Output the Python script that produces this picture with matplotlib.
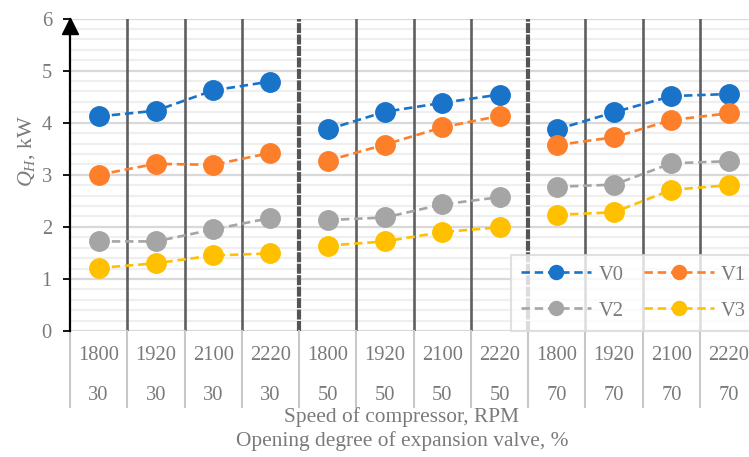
import matplotlib
matplotlib.use("Agg")
import matplotlib.pyplot as plt
from matplotlib.transforms import blended_transform_factory
from matplotlib.lines import Line2D

# Data
speeds = ["1800", "1920", "2100", "2220"] * 3
openings = ["30"] * 4 + ["50"] * 4 + ["70"] * 4
series_names = ["V0", "V1", "V2", "V3"]
v0 = [4.12, 4.23, 4.62, 4.79, 3.87, 4.21, 4.38, 4.54, 3.87, 4.20, 4.51, 4.55]
v1 = [3.00, 3.21, 3.19, 3.42, 3.27, 3.58, 3.91, 4.13, 3.57, 3.72, 4.05, 4.18]
v2 = [1.72, 1.72, 1.95, 2.17, 2.13, 2.18, 2.43, 2.57, 2.77, 2.81, 3.22, 3.26]
v3 = [1.21, 1.30, 1.45, 1.49, 1.64, 1.72, 1.90, 1.99, 2.23, 2.28, 2.71, 2.80]
colors = ["#1873c9", "#fd7f2a", "#a5a5a5", "#ffc000"]
group_size = 4

W, H = 749, 457
plt.rcParams["font.family"] = ["Liberation Serif", "DejaVu Serif"]
plt.rcParams["mathtext.fontset"] = "custom"
plt.rcParams["mathtext.it"] = "Liberation Serif:italic"
plt.rcParams["mathtext.rm"] = "Liberation Serif"
text_col = "#7a7a7a"
fs = 14.8

fig = plt.figure(figsize=(W / 100, H / 100), dpi=100)
x_left, x_right, y_top, y_bot = 70, 757.3, 18.5, 331
ax = fig.add_axes([x_left / W, 1 - y_bot / H, (x_right - x_left) / W, (y_bot - y_top) / H])

n = len(speeds)
xs = list(range(n))
ax.set_xlim(-0.5, n - 0.5)
ax.set_ylim(0, 6)

# Grid: major every 1, minor every 0.2
for k in range(31):
    y = k * 0.2
    ax.axhline(y, color="#d9d9d9" if k % 5 == 0 else "#efefef", lw=1.6, zorder=1)

# Category separators; dashed ones between opening-degree groups
for b in range(1, n):
    xb = b - 0.5
    if b % group_size == 0:
        ax.axvline(xb, color="#555555", lw=3.0, ls=(0, (2.4, 0.35)), zorder=2)
    else:
        ax.axvline(xb, color="#5f5f5f", lw=1.9, zorder=2)

# Series, one broken line per group
handles = []
for vals, c, name in zip([v0, v1, v2, v3], colors, series_names):
    for g in range(0, n, group_size):
        ln, = ax.plot(xs[g:g + group_size], vals[g:g + group_size],
                      ls=(0, (3.2, 1.8)), lw=1.9, color=c, marker="o",
                      markersize=14, zorder=4)
        if g == 0:
            ln.set_label(name)
            handles.append(ln)

# Axes styling
for s in ["top", "right", "bottom"]:
    ax.spines[s].set_visible(False)
ax.spines["left"].set_color("black")
ax.spines["left"].set_linewidth(1.6)
ax.spines["left"].set_zorder(5)
ax.set_xticks([])
ax.set_yticks(range(7))
ax.tick_params(axis="y", direction="out", length=5, width=1.3, color="black",
               labelsize=fs, labelcolor=text_col, pad=8)
# Arrow head on the y axis
ax.plot([-0.5], [5.86], marker="^", markersize=11, color="black",
        clip_on=False, zorder=6)

# Two-level category labels below the axis
tr = blended_transform_factory(ax.transData, fig.transFigure)
for i in range(n):
    ax.text(i, 1 - 355 / H, speeds[i], transform=tr, ha="center", va="center",
            fontsize=fs, color=text_col)
    ax.text(i, 1 - 395 / H, openings[i], transform=tr, ha="center", va="center",
            fontsize=fs, color=text_col)
for b in range(n + 1):
    ax.add_line(Line2D([b - 0.5, b - 0.5], [1 - y_bot / H, 1 - 407 / H],
                       transform=tr, color="#c8c8c8", lw=1.5, clip_on=False))

fig.text(402 / W, 1 - 417 / H, "Speed of compressor, RPM", ha="center",
         va="center", fontsize=15.4, color=text_col)
fig.text(402 / W, 1 - 441 / H, "Opening degree of expansion valve, %",
         ha="center", va="center", fontsize=15.4, color=text_col)
fig.text(27 / W, 1 - 151 / H, r"$Q_{H}$, kW", rotation=90, ha="center",
         va="center", fontsize=fs + 1, color=text_col)

order = [0, 2, 1, 3]
leg = ax.legend([handles[i] for i in order], [series_names[i] for i in order],
                ncol=2, loc="upper left", bbox_to_anchor=(511 / W, 1 - 255 / H),
                bbox_transform=fig.transFigure, frameon=True, fancybox=False,
                fontsize=fs, labelcolor=text_col, handlelength=3.4,
                columnspacing=1.0, labelspacing=0.8, borderpad=0.5,
                handletextpad=0.35, markerscale=0.72, borderaxespad=0)
leg.get_frame().set_edgecolor("#d9d9d9")
leg.get_frame().set_linewidth(1.5)
leg.set_zorder(7)

fig.savefig("out.png", dpi=100)
